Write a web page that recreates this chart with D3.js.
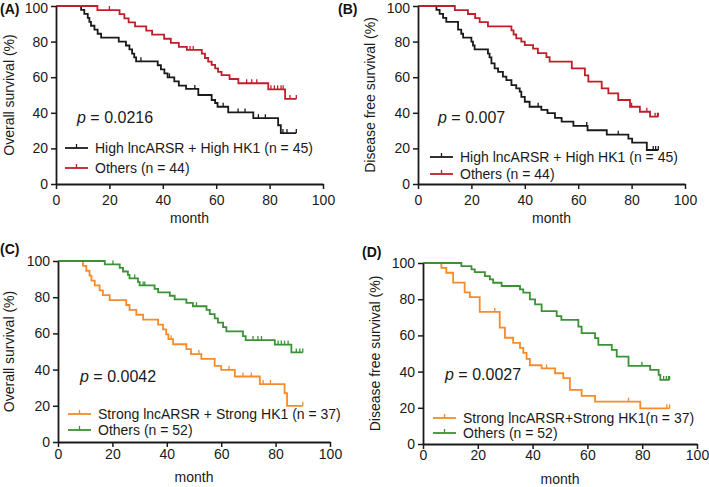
<!DOCTYPE html>
<html><head><meta charset="utf-8">
<script src="https://cdn.jsdelivr.net/npm/d3@7"></script>
<style>
body{margin:0;background:#fff}
svg{display:block;font-family:Arial,"Liberation Sans",Helvetica,sans-serif}
</style>
</head><body>
<svg id="chart" width="709" height="487"></svg>
<script>
// ---------- data ----------
const monthTicks = [0, 20, 40, 60, 80, 100];
const survTicks = [0, 20, 40, 60, 80, 100];
const followEnd = 90;

// Panel A (overall survival)
const aHighT = [9.4,10.6,11.9,12.5,13.1,14.4,15.6,16.9,23.5,26.2,27.5,28.5,29.3,30.0,38.1,39.3,40.6,41.8,44.3,46.0,48.7,53.3,58.3,59.6,60.5,64.5,73.9,83.2,84.2];
const aHighS = [97.8,95.6,93.3,91.1,88.9,86.7,84.4,82.2,80.0,77.8,75.6,73.3,71.1,68.9,66.7,64.4,62.2,59.9,57.6,55.3,53.4,50.0,47.2,45.5,43.4,40.2,37.0,33.0,28.6];
const aHighC = [31.8,42.5,52.0,62.6,68.2,70.8,75.8,78.4,85.0,86.5,90];
const aOtherT = [15.5,23.8,25.6,27.2,29.6,33.8,36.0,40.5,43.0,46.0,49.0,54.6,55.8,57.0,58.3,59.6,60.7,62.0,65.0,68.3,79.5,85.8];
const aOtherS = [97.7,95.4,93.1,90.8,88.5,86.2,83.9,81.6,79.3,77.0,75.3,73.2,70.8,68.7,66.9,65.0,63.0,61.2,59.0,56.6,53.2,47.8];
const aOtherC = [20.0,50.2,51.4,71.4,73.3,75.2,80.5,81.8,83.0,84.3,85.1,87.6,90];
const aLegend = ["High lncARSR + High HK1 (n = 45)", "Others (n = 44)"];
const aP = "0.0216";

// Panel B (disease free survival)
const bHighT = [6.9,8.1,9.4,10.6,15.0,16.2,16.9,20.0,20.6,21.2,26.2,26.8,27.5,28.7,30.0,31.8,33.1,35.0,36.8,38.1,38.7,40.0,41.8,46.2,48.5,51.3,53.8,58.2,63.5,70.7,78.8,80.2,85.7];
const bHighS = [97.8,95.6,93.3,91.1,86.7,84.4,82.2,80.0,77.8,75.6,73.3,71.1,67.8,65.0,63.0,60.3,58.4,55.6,53.7,51.9,49.0,46.2,43.4,41.6,39.8,37.2,35.0,32.6,30.2,27.7,25.5,23.2,19.1];
const bHighC = [45.0,63.2,75.0,88.1,89.0,90];
const bOtherT = [13.8,18.7,21.4,23.1,26.2,35.0,35.8,36.8,38.7,40.0,43.1,44.9,48.1,49.3,57.6,62.5,63.8,68.8,71.3,75.0,79.4,83.1,86.9];
const bOtherS = [97.7,95.5,93.2,90.9,88.6,86.3,84.0,81.8,80.0,78.0,76.0,73.5,71.3,68.8,65.0,61.0,57.5,53.7,50.9,47.2,43.4,40.6,37.8];
const bOtherC = [80.0,85.7,88.8,89.7,90];
const bLegend = ["High lncARSR + High HK1 (n = 45)", "Others (n = 44)"];
const bP = "0.007";

// Panel C (overall survival)
const cStrongT = [9.2,10.4,11.6,12.3,13.5,15.3,16.5,19.0,25.1,26.3,28.8,31.3,36.8,38.6,39.8,40.6,42.3,47.2,48.9,52.7,57.6,60.0,65.0,74.2,83.3,84.2];
const cStrongS = [97.3,94.6,91.9,89.2,86.5,83.8,81.1,78.4,75.7,73.0,70.3,67.6,64.9,62.2,59.5,56.8,54.0,51.3,48.6,45.9,42.1,39.9,36.2,32.0,27.0,20.0];
const cStrongC = [41.6,51.8,62.9,68.0,71.1,75.4,78.1,90];
const cOtherT = [17.2,22.7,23.9,25.7,26.3,29.4,30.0,35.5,36.8,41.1,42.9,47.2,49.6,54.6,55.8,57.6,58.8,60.7,61.9,68.0,69.0,79.7,85.8];
const cOtherS = [98.1,96.2,94.2,92.3,90.4,88.5,86.5,84.6,82.7,80.8,78.8,76.9,75.0,73.0,70.6,68.3,65.9,63.5,61.1,58.5,56.3,53.8,49.5];
const cOtherC = [20.2,28.2,31.3,31.9,50.9,71.7,73.5,74.8,80.9,82.1,83.3,84.6,87.6,88.9,90];
const cLegend = ["Strong lncARSR + Strong HK1 (n = 37)", "Others (n = 52)"];
const cP = "0.0042";

// Panel D (disease free survival)
const dStrongT = [6.7,8.5,11.0,15.2,17.1,20.7,28.0,29.9,32.9,35.4,36.6,37.8,39.0,43.3,48.2,51.2,53.6,57.9,62.8,79.3];
const dStrongS = [97.3,94.6,89.2,83.8,81.1,73.0,64.3,58.7,55.9,53.1,50.4,47.0,43.5,41.8,39.1,36.4,29.9,26.6,23.4,19.7];
const dStrongC = [26.2,45.1,75.0,89.0,90];
const dOtherT = [14.0,17.7,18.9,22.6,24.4,25.6,28.7,35.4,36.6,39.0,40.9,43.3,48.8,50.5,56.7,57.9,62.8,64.0,68.9,70.7,75.0,82.9,86.0,86.6];
const dOtherS = [98.3,96.5,95.0,92.8,90.9,89.1,87.3,85.4,83.6,79.9,77.1,73.4,70.7,68.6,64.9,61.3,58.5,54.8,52.0,48.3,43.2,41.0,38.2,35.4];
const dOtherC = [79.9,87.8,88.8,89.6,90];
const dLegend = ["Strong lncARSR+Strong HK1(n = 37)", "Others (n = 52)"];
const dP = "0.0027";

const xTitle = "month";
const osTitle = "Overall survival (%)";
const dfsTitle = "Disease free survival (%)";

// ---------- styles / layout ----------
const BLACK = "#1a1a1a", RED = "#bf1f2a", ORANGE = "#f68b2c", GREEN = "#3b9234";

const panels = [
  {tag:"(A)", tagX:0, tagY:14, x0:56, x1:323, yT:6, yB:184, title:osTitle, titleX:14,
   p:aP, pX:77, pY:122.5, legX:65, legY:148, legDy:20, xLabOff:11, monthY:223,
   series:[{t:aHighT,s:aHighS,c:aHighC,col:BLACK,name:aLegend[0]},{t:aOtherT,s:aOtherS,c:aOtherC,col:RED,name:aLegend[1]}]},
  {tag:"(B)", tagX:338, tagY:14, x0:418, x1:685, yT:6, yB:184, title:dfsTitle, titleX:375,
   p:bP, pX:438, pY:122.5, legX:430, legY:157, legDy:17, xLabOff:11, monthY:223,
   series:[{t:bHighT,s:bHighS,c:bHighC,col:BLACK,name:bLegend[0]},{t:bOtherT,s:bOtherS,c:bOtherC,col:RED,name:bLegend[1]}]},
  {tag:"(C)", tagX:0, tagY:254, x0:58, x1:330, yT:261, yB:442, title:osTitle, titleX:14,
   p:cP, pX:80, pY:381.5, legX:68, legY:414, legDy:16, xLabOff:7, monthY:482,
   series:[{t:cStrongT,s:cStrongS,c:cStrongC,col:ORANGE,name:cLegend[0]},{t:cOtherT,s:cOtherS,c:cOtherC,col:GREEN,name:cLegend[1]}]},
  {tag:"(D)", tagX:362, tagY:257, x0:423, x1:697, yT:263, yB:444, title:dfsTitle, titleX:380,
   p:dP, pX:445, pY:380, legX:433, legY:418, legDy:15, xLabOff:6, monthY:484,
   series:[{t:dStrongT,s:dStrongS,c:dStrongC,col:ORANGE,name:dLegend[0]},{t:dOtherT,s:dOtherS,c:dOtherC,col:GREEN,name:dLegend[1]}]}
];

const svg = d3.select("#chart");

function survAt(t, s, time) {
  let v = 100;
  for (let i = 0; i < t.length; i++) { if (t[i] <= time) v = s[i]; }
  return v;
}

panels.forEach(P => {
  const x = d3.scaleLinear().domain([0, 100]).range([P.x0, P.x1]);
  const y = d3.scaleLinear().domain([0, 100]).range([P.yB, P.yT]);
  const g = svg.append("g");

  // curves
  const line = d3.line().x(d => x(d[0])).y(d => y(d[1])).curve(d3.curveStepAfter);
  P.series.forEach(S => {
    const pts = [[0, 100]].concat(S.t.map((t, i) => [t, S.s[i]]));
    pts.push([followEnd, S.s[S.s.length - 1]]);
    g.append("path").attr("d", line(pts)).attr("fill", "none")
      .attr("stroke", S.col).attr("stroke-width", 1.8);
    g.selectAll(null).data(S.c).enter().append("line")
      .attr("x1", d => x(d)).attr("x2", d => x(d))
      .attr("y1", d => y(survAt(S.t, S.s, d)))
      .attr("y2", d => y(survAt(S.t, S.s, d)) - 4)
      .attr("stroke", S.col).attr("stroke-width", 1.3);
  });

  // axes
  const ax = g.append("g").attr("transform", `translate(0,${P.yB})`)
    .call(d3.axisBottom(x).tickValues(monthTicks).tickSize(5).tickSizeOuter(0).tickPadding(P.xLabOff - 5));
  const ay = g.append("g").attr("transform", `translate(${P.x0},0)`)
    .call(d3.axisLeft(y).tickValues(survTicks).tickSize(5).tickSizeOuter(0).tickPadding(3));
  [ax, ay].forEach(a => {
    a.attr("font-family", null).attr("font-size", null);
    a.select(".domain").attr("stroke", BLACK).attr("stroke-width", 1.8);
    a.selectAll(".tick line").attr("stroke", BLACK).attr("stroke-width", 1.5);
    a.selectAll(".tick text").attr("fill", "#1a1a1a").style("font-size", "14px");
  });
  // keep the top tick label inside the page
  ay.selectAll(".tick text").filter(d => d === 100 && P.yT < 10).attr("dy", "0.48em");

  // titles
  g.append("text").attr("x", (P.x0 + P.x1) / 2).attr("y", P.monthY)
    .attr("text-anchor", "middle").style("font-size", "14px").attr("fill", "#1a1a1a").text(xTitle);
  g.append("text").attr("transform", `translate(${P.titleX},${(P.yT + P.yB) / 2}) rotate(-90)`)
    .attr("text-anchor", "middle").style("font-size", "14px").attr("fill", "#1a1a1a").text(P.title);
  g.append("text").attr("x", P.tagX).attr("y", P.tagY)
    .style("font-size", "14px").style("font-weight", "bold").attr("fill", "#111").text(P.tag);

  // p value
  const pt = g.append("text").attr("x", P.pX).attr("y", P.pY).style("font-size", "16px").attr("fill", "#1a1a1a");
  pt.append("tspan").style("font-style", "italic").text("p");
  pt.append("tspan").text(" = " + P.p);

  // legend
  P.series.forEach((S, i) => {
    const ly = P.legY + i * P.legDy;
    g.append("line").attr("x1", P.legX).attr("x2", P.legX + 23).attr("y1", ly).attr("y2", ly)
      .attr("stroke", S.col).attr("stroke-width", 1.8);
    g.append("line").attr("x1", P.legX + 11.5).attr("x2", P.legX + 11.5).attr("y1", ly).attr("y2", ly - 4)
      .attr("stroke", S.col).attr("stroke-width", 1.3);
    g.append("text").attr("x", P.legX + 30).attr("y", ly + 5)
      .style("font-size", "14px").attr("fill", "#1a1a1a").text(S.name);
  });
});
</script>
</body></html>
